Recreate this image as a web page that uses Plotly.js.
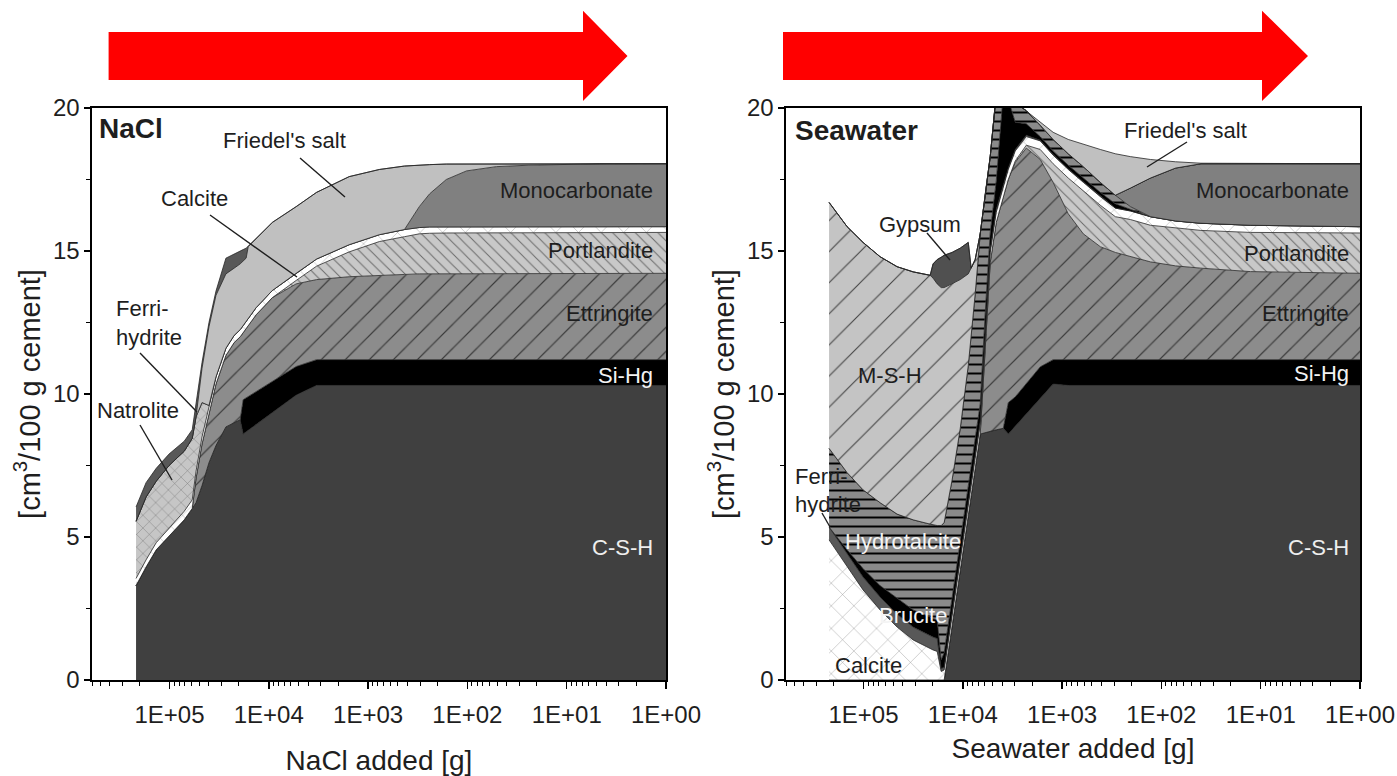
<!DOCTYPE html>
<html><head><meta charset="utf-8">
<script src="https://cdn.plot.ly/plotly-3.0.1.min.js"></script>
<style>html,body{margin:0;padding:0;background:#fff}#chart{width:1397px;height:776px}</style>
</head><body><div id="chart"></div>
<script>
// ---------- NaCl panel: phase volumes [cm3/100 g cement] vs NaCl added [g] ----------
const naclAdded = [2.17e5,1.72e5,1.36e5,1.01e5,7.1e4,5.9e4,5.4e4,4.7e4,4.0e4,3.4e4,2.7e4,2.23e4,1.94e4,1.81e4,1.69e4,1.61e4,1.34e4,9.2e3,5.3e3,3.3e3,1.55e3,770,430,305,240,163,102,51,24,4.7,1];
const naclCSH   = [3.3,3.95,4.55,5.05,5.6,6.0,6.2,6.8,7.6,8.2,8.85,9.0,9.1,8.6,8.68,8.73,8.93,9.35,9.96,10.3,10.3,10.3,10.3,10.3,10.3,10.3,10.3,10.3,10.3,10.3,10.3];
const naclSiHg  = [0,0,0,0,0,0,0,0,0,0,0,0,0,1.2,1.19,1.18,1.16,1.09,1.0,0.9,0.9,0.9,0.9,0.9,0.9,0.9,0.9,0.9,0.9,0.9,0.9];
const naclEtt   = [0,0,0,0,0,0,0.85,1.45,1.75,2.15,2.5,2.8,2.9,2.35,2.43,2.49,2.68,2.93,2.89,2.8,2.9,2.95,2.98,3.0,3.0,3.01,3.02,3.02,3.02,3.02,3.02];
const naclPort  = [0,0,0,0,0,0,0,0,0,0,0,0,0,0,0,0,0,0,0.12,0.47,0.87,1.18,1.32,1.4,1.42,1.42,1.42,1.43,1.43,1.43,1.43];
const naclCalc  = [0.25,0.25,0.25,0.25,0.3,0.3,0.25,0.25,0.25,0.25,0.25,0.25,0.25,0.25,0.25,0.25,0.25,0.25,0.25,0.25,0.25,0.24,0.25,0.22,0.22,0.22,0.21,0.2,0.2,0.2,0.2];
const naclNatro = [2.0,2.2,2.15,2.2,2.1,2.15,1.9,1.2,0,0,0,0,0,0,0,0,0,0,0,0,0,0,0,0,0,0,0,0,0,0,0];
const naclMono  = [0,0,0,0,0,0,0,0,0,0,0,0,0,0,0,0,0,0,0,0,0,0,0,0.73,1.16,1.65,1.95,2.1,2.15,2.2,2.2];
const naclFried = [0,0,0,0,0,0,0,1.2,2.75,2.85,2.6,2.35,2.3,2.25,2.2,2.5,2.43,2.38,2.33,2.33,2.38,2.28,2.22,1.45,1.02,0.54,0.25,0.1,0.05,0,0];
const naclFerri = [0.5,0.5,0.45,0.4,0.35,0.3,0.35,0.2,0.15,0.15,0.55,0.5,0.45,0.4,0.35,0,0,0,0,0,0,0,0,0,0,0,0,0,0,0,0];

// ---------- Seawater panel ----------
const swAdded = [2.22e5,1.46e5,1.01e5,6.8e4,4.58e4,3.16e4,2.13e4,1.99e4,1.81e4,1.65e4,1.54e4,1.28e4,1.06e4,8.8e3,8.23e3,7.5e3,6.67e3,5.94e3,5.29e3,4.6e3,3.91e3,3.48e3,2.96e3,2.29e3,1.66e3,1.23e3,866,611,412,291,205,129,72,40,12.7,4.0,1];
const swCSH   = [0,0,0,0,0,0,0,0,0,0,0,1.91,3.82,5.74,6.45,7.4,8.6,8.65,8.7,8.75,8.8,8.6,8.87,9.3,9.85,10.35,10.3,10.3,10.3,10.3,10.3,10.3,10.3,10.3,10.3,10.3,10.3];
const swSiHg  = [0,0,0,0,0,0,0,0,0,0,0,0,0,0,0,0,0,0,0,0,0,1.1,1.03,1.05,1.1,0.85,0.9,0.9,0.9,0.9,0.9,0.9,0.9,0.9,0.9,0.9,0.9];
const swEtt   = [0,0,0,0,0,0,0,0,0,0,0,0,0,0,0,0,0,3.15,5.9,7.25,8.1,7.8,8.2,8.25,7.25,6.2,5.1,4.4,3.95,3.75,3.6,3.42,3.28,3.2,3.08,3.04,3.02];
const swPort  = [0,0,0,0,0,0,0,0,0,0,0,0,0,0,0,0,0,0,0,0,0,0,0.05,0.1,0.35,0.65,1.25,1.5,1.45,1.25,1.3,1.28,1.32,1.32,1.37,1.4,1.41];
const swCalc  = [4.9,3.95,3.15,2.45,1.85,1.4,1.1,1.05,1.0,0.3,0.35,0.35,0.35,0.35,0.35,0.35,0.35,0.35,0.35,0.35,0.35,0.35,0.35,0.3,0.3,0.3,0.3,0.3,0.3,0.3,0.3,0.3,0.25,0.25,0.25,0.23,0.22];
const swFerri = [0.45,0.45,0.45,0.45,0.45,0.45,0.45,0.45,0.45,0.1,0.1,0.1,0.1,0.1,0.1,0.1,0.1,0.1,0.1,0.1,0.05,0.05,0.05,0.05,0.02,0.02,0.02,0.02,0.02,0,0,0,0,0,0,0,0];
const swBruc  = [0,0.15,0.3,0.4,0.55,0.6,0.65,0.65,0.65,0.3,0.5,0.6,0.6,0.6,0.6,0.6,0.6,0.6,0.6,1.0,3.2,2.4,0.95,0.4,0.13,0.13,0.13,0.13,0.13,0.15,0.05,0,0,0,0,0,0];
const swHydro = [2.75,2.7,2.75,2.9,2.95,3.15,3.25,3.27,3.3,4.7,4.55,4.04,3.93,4.21,4.5,5.05,5.95,4.15,2.65,3.05,0.3,0.5,0.7,0.45,0.4,0.4,0.4,0.4,0.35,0.3,0.1,0,0,0,0,0,0];
const swMono  = [0,0,0,0,0,0,0,0,0,0,0,0,0,0,0,0,0,0,0,0,0,0,0,0,0,0,0,0,0,0,0.65,1.35,1.85,2.08,2.15,2.18,2.2];
const swMSH   = [8.6,8.6,8.65,8.6,8.65,8.67,8.7,8.63,8.45,8.32,8.22,6.85,5.2,3.2,2.4,1.2,0,0,0,0,0,0,0,0,0,0,0,0,0,0,0,0,0,0,0,0,0];
const swGyp   = [0,0,0,0,0,0,0,0.5,0.85,1.06,1.13,1.1,1.1,1.1,0,0,0,0,0,0,0,0,0,0,0,0,0,0,0,0,0,0,0,0,0,0,0];
const swFried = [0,0,0,0,0,0,0,0,0,0,0,0,0,0,0,0,0,0,0,0,0,0,0,0,0.1,0.25,0.5,0.8,1.15,1.45,1.1,0.65,0.22,0.02,0,0,0];

// ---------- axis tick labels ----------
const xTickVals = [1e5,1e4,1e3,1e2,1e1,1];
const xTickText = ['1E+05','1E+04','1E+03','1E+02','1E+01','1E+00'];
const yTickVals = [0,5,10,15,20];

// ---------- styles ----------
const FONT = 'Liberation Sans, Arial, Helvetica, sans-serif';
const STY = {
  'C-S-H':        {color:'#404040'},
  'Si-Hg':        {color:'#000000'},
  'Ettringite':   {color:'#8c8c8c', pat:{shape:'/', size:17, solidity:0.07, fg:'#3a3a3a'}},
  'Portlandite':  {color:'#c8c8c8', pat:{shape:'\\', size:8, solidity:0.12, fg:'#6a6a6a'}},
  'Calcite':      {color:'#ffffff', pat:{shape:'x', size:16, solidity:0.05, fg:'#8a8a8a'}},
  'Natrolite':    {color:'#c6c6c6', pat:{shape:'x', size:9, solidity:0.1, fg:'#777777'}},
  'Monocarbonate':{color:'#808080'},
  "Friedel's salt":{color:'#c0c0c0'},
  'Ferrihydrite': {color:'#585858'},
  'Brucite':      {color:'#000000'},
  'Hydrotalcite': {color:'#8a8a8a', pat:{shape:'-', size:9, solidity:0.22, fg:'#000000'}},
  'M-S-H':        {color:'#c4c4c4', pat:{shape:'/', size:22, solidity:0.05, fg:'#444444'}},
  'Gypsum':       {color:'#505050'}
};

function layer(name, x, y, xa, ya, grp){
  const s = STY[name];
  const t = {type:'scatter', mode:'lines', name:name, x:x, y:y, xaxis:xa, yaxis:ya,
    stackgroup:grp, line:{width:0.8, color:'#262626'}, fillcolor:s.color, hoverinfo:'skip'};
  if (s.pat) t.fillpattern = {shape:s.pat.shape, size:s.pat.size, solidity:s.pat.solidity,
    fgcolor:s.pat.fg, bgcolor:s.color, fillmode:'replace'};
  return t;
}

const traces = [
  layer('C-S-H', naclAdded, naclCSH, 'x','y','a'),
  layer('Si-Hg', naclAdded, naclSiHg, 'x','y','a'),
  layer('Ettringite', naclAdded, naclEtt, 'x','y','a'),
  layer('Portlandite', naclAdded, naclPort, 'x','y','a'),
  layer('Calcite', naclAdded, naclCalc, 'x','y','a'),
  layer('Natrolite', naclAdded, naclNatro, 'x','y','a'),
  layer('Monocarbonate', naclAdded, naclMono, 'x','y','a'),
  layer("Friedel's salt", naclAdded, naclFried, 'x','y','a'),
  layer('Ferrihydrite', naclAdded, naclFerri, 'x','y','a'),

  layer('C-S-H', swAdded, swCSH, 'x2','y2','b'),
  layer('Si-Hg', swAdded, swSiHg, 'x2','y2','b'),
  layer('Ettringite', swAdded, swEtt, 'x2','y2','b'),
  layer('Portlandite', swAdded, swPort, 'x2','y2','b'),
  layer('Calcite', swAdded, swCalc, 'x2','y2','b'),
  layer('Ferrihydrite', swAdded, swFerri, 'x2','y2','b'),
  layer('Brucite', swAdded, swBruc, 'x2','y2','b'),
  layer('Hydrotalcite', swAdded, swHydro, 'x2','y2','b'),
  layer('Monocarbonate', swAdded, swMono, 'x2','y2','b'),
  layer('M-S-H', swAdded, swMSH, 'x2','y2','b'),
  layer('Gypsum', swAdded, swGyp, 'x2','y2','b'),
  layer("Friedel's salt", swAdded, swFried, 'x2','y2','b')
];

// minor log ticks
const minorX = [];
for (let d = 0; d <= 5; d++) for (let k = 2; k <= 9; k++) { const v = k*Math.pow(10,d); if (v <= 6e5) minorX.push(v); }

function xAxis(domain, title, standoff){
  return {domain:domain, type:'log', range:[5.78,0], tickmode:'array', tickvals:xTickVals, ticktext:xTickText,
    ticks:'outside', ticklen:7, tickwidth:1.5, tickcolor:'#000', ticklabelstandoff:6,
    showline:true, linecolor:'#000', linewidth:1.6, mirror:true, showgrid:false, zeroline:false,
    tickfont:{family:FONT, size:24, color:'#1e1e1e'},
    minor:{tickmode:'array', tickvals:minorX, ticks:'outside', ticklen:4, tickwidth:1, tickcolor:'#000', showgrid:false},
    title:{text:title, font:{family:FONT, size:28, color:'#1e1e1e'}, standoff:standoff}, automargin:false};
}
function yAxis(domain, anchor){
  return {domain:domain, anchor:anchor, range:[0,20], tickmode:'array', tickvals:yTickVals,
    ticks:'outside', ticklen:6, tickwidth:1.5, tickcolor:'#000',
    showline:true, linecolor:'#000', linewidth:1.6, mirror:true, showgrid:false, zeroline:false,
    tickfont:{family:FONT, size:24, color:'#1e1e1e'},
    minor:{dtick:2.5, ticks:'outside', ticklen:4, tickwidth:1, tickcolor:'#000', showgrid:false},
    title:{text:'[cm<sup>3</sup>/100 g cement]', font:{family:FONT, size:29, color:'#1e1e1e'}, standoff:4}, automargin:false};
}

const W = 1397, H = 776;
const px = v => v / W, py = v => 1 - v / H;
function arrowPath(x0, xb, xt, yTop, yBot, yHeadTop, yHeadBot, yTip){
  return `M${px(x0)},${py(yTop)} L${px(xb)},${py(yTop)} L${px(xb)},${py(yHeadTop)} L${px(xt)},${py(yTip)} L${px(xb)},${py(yHeadBot)} L${px(xb)},${py(yBot)} L${px(x0)},${py(yBot)} Z`;
}
function leader(x0, y0, x1, y1){
  return {type:'line', xref:'paper', yref:'paper', x0:px(x0), y0:py(y0), x1:px(x1), y1:py(y1),
    line:{color:'#1e1e1e', width:1.4}};
}

// label helper (x in log10 units for log axes)
function lab(xa, ya, x, y, text, opt){
  opt = opt || {};
  return {xref:xa, yref:ya, x:x, y:y, text:text, showarrow:false,
    xanchor:opt.xanchor || 'center', yanchor:'middle', align:opt.align || 'center',
    font:{family:FONT, size:opt.size || 22, color:opt.color || '#1e1e1e'}};
}

const annotations = [
  lab('x','y',5.73,19.3,'<b>NaCl</b>',{xanchor:'left', size:28}),
  lab('x','y',3.845,18.88,"Friedel's salt"),
  lab('x','y',4.752,16.82,'Calcite'),
  lab('x','y',5.56,12.98,'Ferri-',{xanchor:'left'}),
  lab('x','y',5.56,11.98,'hydrite',{xanchor:'left'}),
  lab('x','y',5.75,9.41,'Natrolite',{xanchor:'left'}),
  lab('x','y',0.115,17.1,'Monocarbonate',{xanchor:'right'}),
  lab('x','y',0.115,15.0,'Portlandite',{xanchor:'right'}),
  lab('x','y',0.115,12.83,'Ettringite',{xanchor:'right'}),
  lab('x','y',0.115,10.66,'Si-Hg',{xanchor:'right', color:'#f2f2f2'}),
  lab('x','y',0.115,4.65,'C-S-H',{xanchor:'right', color:'#eeeeee'}),

  lab('x2','y2',5.709,19.2,'<b>Seawater</b>',{xanchor:'left', size:28}),
  lab('x2','y2',4.429,15.91,'Gypsum'),
  lab('x2','y2',1.758,19.23,"Friedel's salt"),
  lab('x2','y2',0.095,17.1,'Monocarbonate',{xanchor:'right'}),
  lab('x2','y2',0.095,14.9,'Portlandite',{xanchor:'right'}),
  lab('x2','y2',0.095,12.83,'Ettringite',{xanchor:'right'}),
  lab('x2','y2',0.095,10.7,'Si-Hg',{xanchor:'right', color:'#f2f2f2'}),
  lab('x2','y2',0.095,4.65,'C-S-H',{xanchor:'right', color:'#eeeeee'}),
  lab('x2','y2',4.732,10.63,'M-S-H'),
  lab('x2','y2',5.709,7.12,'Ferri-',{xanchor:'left'}),
  lab('x2','y2',5.709,6.12,'hydrite',{xanchor:'left'}),
  lab('x2','y2',4.60,4.86,'Hydrotalcite',{color:'#f4f4f4'}),
  lab('x2','y2',4.50,2.27,'Brucite',{color:'#f4f4f4'}),
  lab('x2','y2',4.953,0.52,'Calcite')
];

const layout = {
  width:W, height:H, margin:{l:0,r:0,t:0,b:0}, paper_bgcolor:'#fff', plot_bgcolor:'#fff',
  showlegend:false, hovermode:false,
  xaxis: xAxis([92/W, 666/W], 'NaCl added [g]', 23),
  yaxis: yAxis([1-680/H, 1-108/H], 'x'),
  xaxis2: xAxis([786/W, 1360/W], 'Seawater added [g]', 11),
  yaxis2: yAxis([1-680/H, 1-108/H], 'x2'),
  annotations: annotations,
  shapes: [
    {type:'path', xref:'paper', yref:'paper', path:arrowPath(108.6,583,627.5,32,80,10.7,101,56), fillcolor:'#ff0000', line:{width:0}},
    {type:'path', xref:'paper', yref:'paper', path:arrowPath(783,1262,1308,32,80,10.7,101,56), fillcolor:'#ff0000', line:{width:0}},
    leader(300,158,345,197),
    leader(210,215,297,277),
    leader(140,353,197,412),
    leader(140,425,172,480),
    leader(927,233,950,260),
    leader(1187,142,1147,167),
    leader(822,513,830,527)
  ]
};
layout.xaxis2.anchor = 'y2';
layout.xaxis.anchor = 'y';

Plotly.newPlot('chart', traces, layout, {staticPlot:true, displayModeBar:false});
</script>
</body></html>
